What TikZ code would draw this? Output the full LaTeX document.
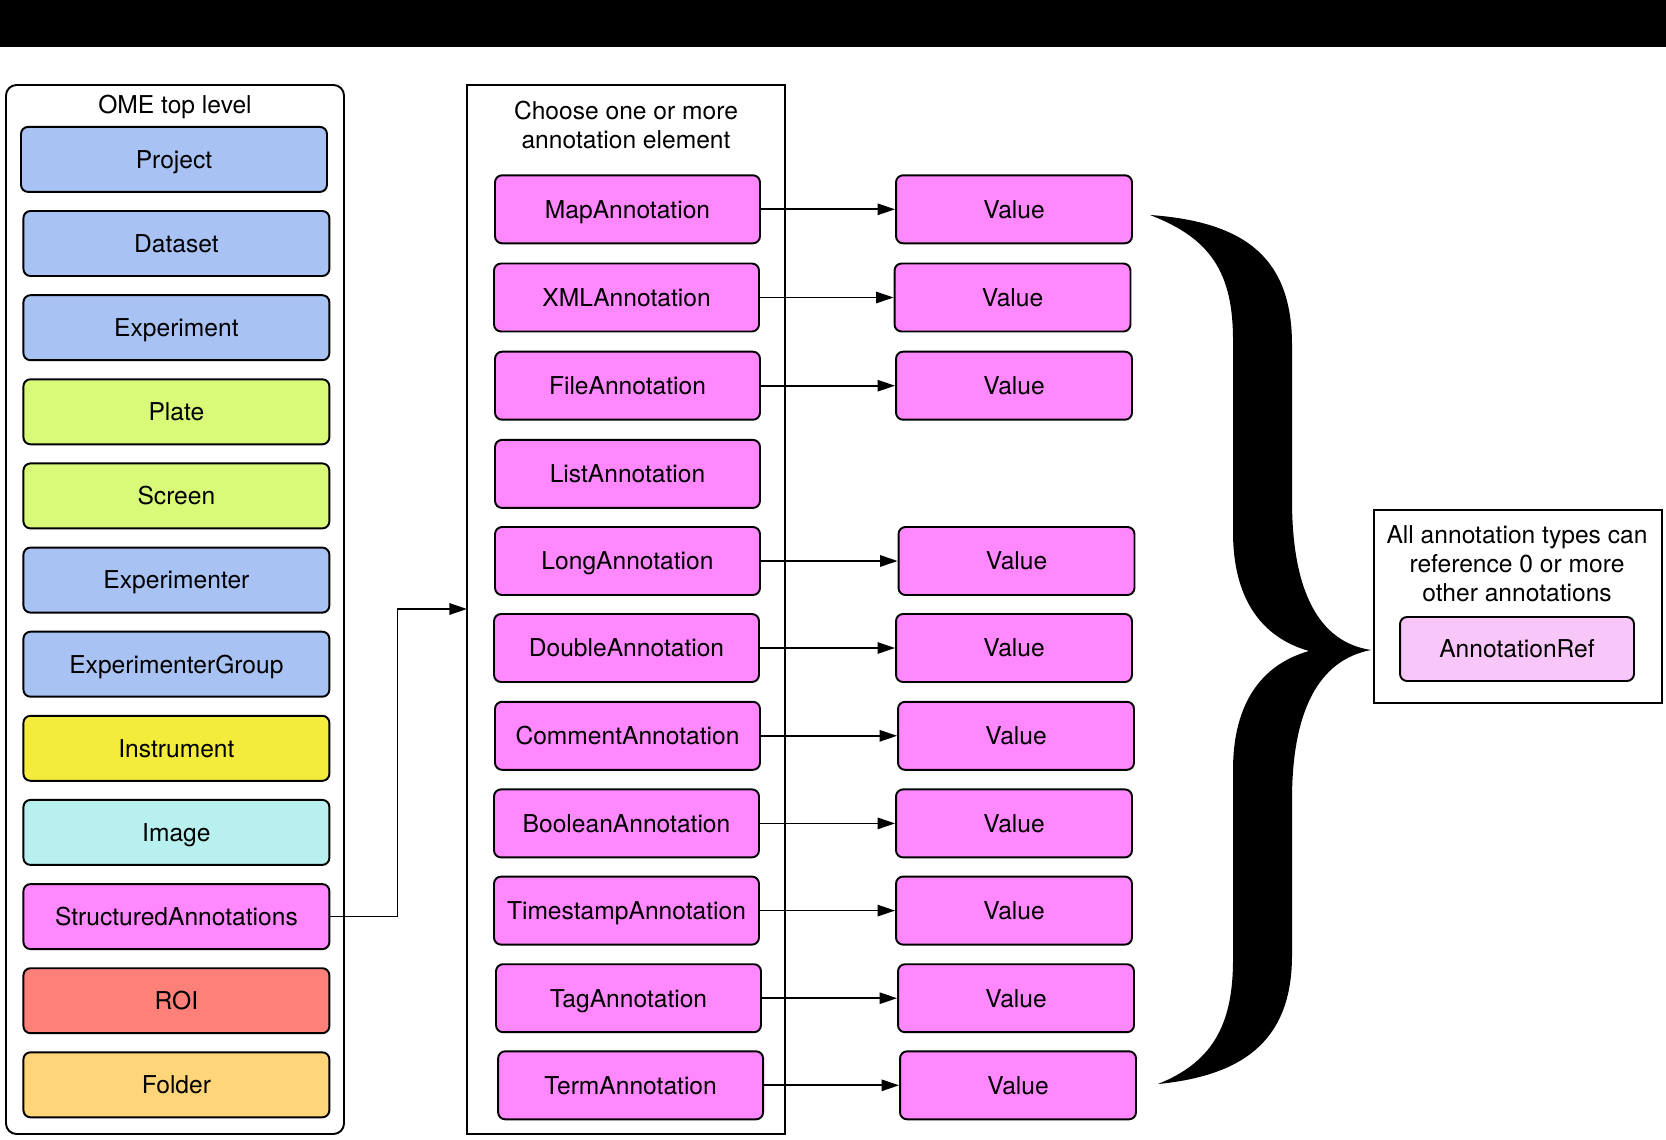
\documentclass[tikz,border=0pt]{standalone}
\usepackage{fontspec}
\setmainfont{TeX Gyre Heros}
\usetikzlibrary{arrows.meta}
\definecolor{cblue}{HTML}{A9C2F4}
\definecolor{clime}{HTML}{D8FA78}
\definecolor{cyell}{HTML}{F4EC3C}
\definecolor{ccyan}{HTML}{B8F0F0}
\definecolor{cmag}{HTML}{FF88FF}
\definecolor{croi}{HTML}{FF8078}
\definecolor{cfold}{HTML}{FFD57A}
\definecolor{cref}{HTML}{F8C6F8}
\tikzset{
  every node/.style={font=\fontsize{14}{16.4}\selectfont},
  boxbase/.style={draw=black, line width=1.1pt, rounded corners=4pt, inner sep=0pt, text height=10.1pt, text depth=0pt},
  topbox/.style={boxbase, minimum width=6.12cm, minimum height=1.3cm},
  annbox/.style={boxbase, fill=cmag, minimum width=5.3cm, minimum height=1.36cm},
  valbox/.style={boxbase, fill=cmag, minimum width=4.72cm, minimum height=1.36cm},
  conn/.style={draw=black, line width=1pt, -{Triangle[length=10pt,width=6.5pt]}},
}
\begin{document}
\begin{tikzpicture}[x=0.02cm,y=-0.02cm]
\useasboundingbox (0,0) rectangle (1666,1139);
\fill[black] (0,0) rectangle (1666,47);
% left container
\draw[line width=1.1pt, rounded corners=6pt] (6,85) rectangle (344,1134);
\node[text height=10.1pt, text depth=0pt, inner sep=0pt] (omet) at (175,105) {OME top level};
\node[topbox, fill=cblue] (project) at (174,159.4) {Project};
\node[topbox, fill=cblue] (dataset) at (176.4,243.5) {Dataset};
\node[topbox, fill=cblue] (experiment) at (176.4,327.7) {Experiment};
\node[topbox, fill=clime] (plate) at (176.4,411.8) {Plate};
\node[topbox, fill=clime] (screen) at (176.4,495.9) {Screen};
\node[topbox, fill=cblue] (experimenter) at (176.4,580.1) {Experimenter};
\node[topbox, fill=cblue] (expgroup) at (176.4,664.2) {ExperimenterGroup};
\node[topbox, fill=cyell] (instrument) at (176.4,748.3) {Instrument};
\node[topbox, fill=ccyan] (image) at (176.4,832.4) {Image};
\node[topbox, fill=cmag] (sa) at (176.4,916.6) {StructuredAnnotations};
\node[topbox, fill=croi] (roi) at (176.4,1000.7) {ROI};
\node[topbox, fill=cfold] (folder) at (176.4,1084.8) {Folder};
% middle container
\draw[line width=1.1pt] (467,85) rectangle (785,1134);
\coordinate (midin) at (467,609);
\node[align=center] (midt) at (626,125) {Choose one or more\\annotation element};
\node[annbox] (map) at (627.5,209.3) {MapAnnotation};
\node[annbox] (xml) at (626.5,297.5) {XMLAnnotation};
\node[annbox] (file) at (627.5,385.7) {FileAnnotation};
\node[annbox] (list) at (627.5,473.9) {ListAnnotation};
\node[annbox] (long) at (627.5,561) {LongAnnotation};
\node[annbox] (double) at (626.5,648) {DoubleAnnotation};
\node[annbox] (comment) at (627.5,735.8) {CommentAnnotation};
\node[annbox] (boolean) at (626.5,823.4) {BooleanAnnotation};
\node[annbox] (timestamp) at (626.5,910.6) {TimestampAnnotation};
\node[annbox] (tag) at (628.5,998.2) {TagAnnotation};
\node[annbox] (term) at (630.6,1085.3) {TermAnnotation};
% values
\node[valbox] (vmap) at (1014,209.3) {Value};
\node[valbox] (vxml) at (1012.5,297.5) {Value};
\node[valbox] (vfile) at (1014,385.7) {Value};
\node[valbox] (vlong) at (1016.5,561) {Value};
\node[valbox] (vdouble) at (1014,648) {Value};
\node[valbox] (vcomment) at (1016,735.8) {Value};
\node[valbox] (vboolean) at (1014,823.4) {Value};
\node[valbox] (vtimestamp) at (1014,910.6) {Value};
\node[valbox] (vtag) at (1016,998.2) {Value};
\node[valbox] (vterm) at (1018,1085.3) {Value};
\draw[conn] (map) -- (vmap);
\draw[conn] (xml) -- (vxml);
\draw[conn] (file) -- (vfile);
\draw[conn] (long) -- (vlong);
\draw[conn] (double) -- (vdouble);
\draw[conn] (comment) -- (vcomment);
\draw[conn] (boolean) -- (vboolean);
\draw[conn] (timestamp) -- (vtimestamp);
\draw[conn] (tag) -- (vtag);
\draw[conn] (term) -- (vterm);
% elbow
\draw[conn] (sa.east) -- (397.4,916.6) -- (397.4,609) -- (midin);
% brace
\fill[black] (1150,215)
  .. controls (1250,222) and (1292,262) .. (1292,345)
  -- (1292,500)
  .. controls (1292,590) and (1318,642) .. (1371,650)
  .. controls (1318,660) and (1292,712) .. (1292,800)
  -- (1292,955)
  .. controls (1292,1035) and (1250,1075) .. (1158,1084)
  .. controls (1210,1063) and (1233,1028) .. (1233,960)
  -- (1233,770)
  .. controls (1233,705) and (1260,665) .. (1309,651)
  .. controls (1260,637) and (1233,597) .. (1233,532)
  -- (1233,340)
  .. controls (1233,272) and (1210,238) .. (1150,215) -- cycle;
% right box
\draw[line width=1.1pt] (1374,510) rectangle (1662,703);
\node[align=center] (rt) at (1517,564) {All annotation types can\\reference 0 or more\\other annotations};
\node[valbox, fill=cref, minimum width=4.68cm, minimum height=1.28cm] (aref) at (1517,649) {AnnotationRef};
\end{tikzpicture}
\end{document}
